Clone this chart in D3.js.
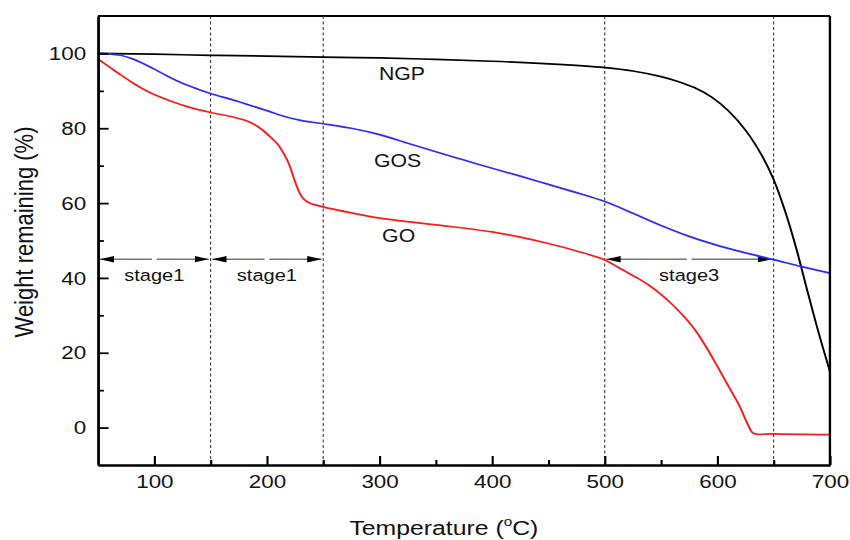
<!DOCTYPE html>
<html>
<head>
<meta charset="utf-8">
<script src="https://cdn.jsdelivr.net/npm/d3@7"></script>
<style>
  html, body { margin: 0; padding: 0; background: #fff; }
  svg { display: block; font-family: "Liberation Sans", Arial, sans-serif; }
</style>
</head>
<body>
<div id="chart"></div>
<script>
// ---- data ----
const ngpTemp   = [50, 100, 150, 200, 250, 300, 350, 400, 450, 500, 525, 550, 565, 580, 595, 610, 625, 640, 650, 660, 670, 680, 690, 700];
const ngpWeight = [100, 99.8, 99.5, 99.3, 99.0, 98.8, 98.4, 97.9, 97.2, 96.2, 95.3, 93.8, 92.5, 90.8, 88.3, 84.6, 79.5, 72.5, 66.3, 58.0, 48.0, 36.5, 25.3, 15.0];

const gosTemp   = [50, 60, 70, 80, 90, 100, 110, 120, 130, 140, 150, 175, 200, 215, 230, 250, 275, 300, 325, 350, 375, 400, 425, 450, 475, 500, 525, 550, 575, 600, 625, 650, 675, 700];
const gosWeight = [100, 99.9, 99.5, 98.6, 97.3, 95.8, 94.2, 92.7, 91.4, 90.3, 89.3, 87.1, 84.7, 83.2, 82.1, 81.2, 80.0, 78.3, 76.0, 73.7, 71.5, 69.3, 67.2, 65.0, 62.8, 60.4, 57.3, 54.0, 51.1, 48.7, 46.7, 44.9, 43.0, 41.3];

const goTemp    = [50, 60, 70, 80, 90, 100, 115, 130, 150, 170, 185, 195, 203, 210, 215, 220, 224, 228, 232, 238, 250, 275, 300, 350, 400, 425, 450, 475, 500, 515, 530, 540, 550, 560, 570, 580, 590, 600, 610, 620, 627, 632, 650, 700];
const goWeight  = [98.5, 96.4, 94.3, 92.3, 90.5, 89.0, 87.2, 85.7, 84.2, 83.0, 81.6, 79.8, 77.7, 75.6, 73.2, 70.2, 66.6, 63.4, 61.3, 60.0, 59.0, 57.4, 56.0, 54.2, 52.3, 50.9, 49.2, 47.2, 44.8, 42.3, 39.8, 37.9, 35.6, 32.9, 29.8, 26.2, 21.6, 16.4, 11.0, 5.6, 0.9, -1.5, -1.7, -1.9];

const xTicks = [100, 200, 300, 400, 500, 600, 700];
const xMinor = [150, 250, 350, 450, 550, 650];
const yTicks = [0, 20, 40, 60, 80, 100];
const yMinor = [10, 30, 50, 70, 90];

const stageLines = [150, 250, 500, 650];
const stageNames = ['stage1', 'stage1', 'stage3'];
const stageFrom  = [50, 150, 500];
const stageTo    = [150, 250, 650];
const stageLevel = 45;

const curveNames  = ['NGP', 'GOS', 'GO'];
const curveLabelT = [320, 316, 317];
const curveLabelW = [92.8, 69.6, 49.6];

// ---- layout (drawn in a 720-wide box, shown stretched to 850 like the original) ----
const W = 850, H = 540, VW = 720;
const margin = { top: 16, right: VW - 703, bottom: H - 465, left: 83 };
const innerW = VW - margin.left - margin.right;
const innerH = H - margin.top - margin.bottom;

const svg = d3.select('#chart').append('svg')
  .attr('width', W).attr('height', H)
  .attr('viewBox', `0 0 ${VW} ${H}`)
  .attr('preserveAspectRatio', 'none');

const defs = svg.append('defs');
['start', 'end'].forEach(k => {
  defs.append('marker')
    .attr('id', 'arr-' + k)
    .attr('viewBox', '0 0 12 8')
    .attr('refX', k === 'end' ? 12 : 0).attr('refY', 4)
    .attr('markerWidth', 12).attr('markerHeight', 8)
    .attr('markerUnits', 'userSpaceOnUse')
    .attr('orient', 'auto')
    .append('path')
    .attr('d', k === 'end' ? 'M0,0.8 L12,4 L0,7.2 Z' : 'M12,0.8 L0,4 L12,7.2 Z')
    .attr('fill', '#000');
});

const g = svg.append('g').attr('transform', `translate(${margin.left},${margin.top})`);

const x = d3.scaleLinear().domain([50, 700]).range([0, innerW]);
const y = d3.scaleLinear().domain([-10, 110]).range([innerH, 0]);

// dotted stage boundaries
g.append('g').selectAll('line').data(stageLines).join('line')
  .attr('x1', d => x(d)).attr('x2', d => x(d))
  .attr('y1', 0).attr('y2', innerH)
  .attr('stroke', '#333').attr('stroke-width', 0.9)
  .attr('stroke-dasharray', '3,2.5');

// stage arrows (two halves with a small gap in the middle)
const arrows = g.append('g');
stageNames.forEach((name, i) => {
  const a = x(stageFrom[i]) + 1.5, b = x(stageTo[i]) - 1.5, m = (a + b) / 2;
  const yy = y(stageLevel);
  arrows.append('line')
    .attr('x1', a).attr('x2', m - 2).attr('y1', yy).attr('y2', yy)
    .attr('stroke', '#777').attr('stroke-width', 1.4)
    .attr('marker-start', 'url(#arr-start)');
  arrows.append('line')
    .attr('x1', m + 2).attr('x2', b).attr('y1', yy).attr('y2', yy)
    .attr('stroke', '#777').attr('stroke-width', 1.4)
    .attr('marker-end', 'url(#arr-end)');
  arrows.append('text')
    .attr('x', m).attr('y', y(stageLevel) + 22)
    .attr('text-anchor', 'middle')
    .attr('font-size', 17).attr('fill', '#111')
    .text(name);
});

// curves
const series = [
  { id: 'NGP', color: '#000000', t: ngpTemp, w: ngpWeight },
  { id: 'GOS', color: '#2b2bff', t: gosTemp, w: gosWeight },
  { id: 'GO',  color: '#ff1a1a', t: goTemp,  w: goWeight }
];
const line = d3.line()
  .x(d => x(d[0])).y(d => y(d[1]))
  .curve(d3.curveCatmullRom.alpha(0.5));

g.append('g').selectAll('path').data(series).join('path')
  .attr('fill', 'none')
  .attr('stroke', d => d.color)
  .attr('stroke-width', 1.7)
  .attr('d', d => line(d.t.map((t, i) => [t, d.w[i]])));

// curve labels
g.append('g').selectAll('text').data(curveNames).join('text')
  .attr('x', (d, i) => x(curveLabelT[i]))
  .attr('y', (d, i) => y(curveLabelW[i]))
  .attr('text-anchor', 'middle')
  .attr('font-size', 18).attr('fill', '#111')
  .text(d => d);

// axes
const gx = g.append('g').attr('transform', `translate(0,${innerH})`)
  .call(d3.axisBottom(x).tickValues(xTicks).tickSizeInner(-9).tickSizeOuter(0).tickPadding(10));
const gxm = g.append('g').attr('transform', `translate(0,${innerH})`)
  .call(d3.axisBottom(x).tickValues(xMinor).tickSizeInner(-5).tickSizeOuter(0).tickFormat(''));
const gy = g.append('g')
  .call(d3.axisLeft(y).tickValues(yTicks).tickSizeInner(-9).tickSizeOuter(0).tickPadding(10));
const gym = g.append('g')
  .call(d3.axisLeft(y).tickValues(yMinor).tickSizeInner(-5).tickSizeOuter(0).tickFormat(''));

[gx, gxm, gy, gym].forEach(a => {
  a.select('.domain').attr('stroke', '#000').attr('stroke-width', 2);
  a.selectAll('.tick line').attr('stroke', '#000').attr('stroke-width', 1.8);
  a.selectAll('.tick text').attr('font-size', 19).attr('fill', '#111')
    .attr('font-family', '"Liberation Sans", Arial, sans-serif');
});

// top and right frame
g.append('line').attr('x1', 0).attr('x2', innerW).attr('y1', 0).attr('y2', 0)
  .attr('stroke', '#000').attr('stroke-width', 2);
g.append('line').attr('x1', innerW).attr('x2', innerW).attr('y1', 0).attr('y2', innerH)
  .attr('stroke', '#000').attr('stroke-width', 2);

// axis titles
const xt = svg.append('text')
  .attr('x', 376).attr('y', 535)
  .attr('text-anchor', 'middle')
  .attr('font-size', 21).attr('fill', '#111');
xt.append('tspan').text('Temperature (');
xt.append('tspan').attr('font-size', 13).attr('dy', -9).text('o');
xt.append('tspan').attr('dy', 9).text('C)');

svg.append('text')
  .attr('transform', 'translate(28,232) rotate(-90)')
  .attr('text-anchor', 'middle')
  .attr('font-size', 22).attr('fill', '#111')
  .text('Weight remaining (%)');
</script>
</body>
</html>
